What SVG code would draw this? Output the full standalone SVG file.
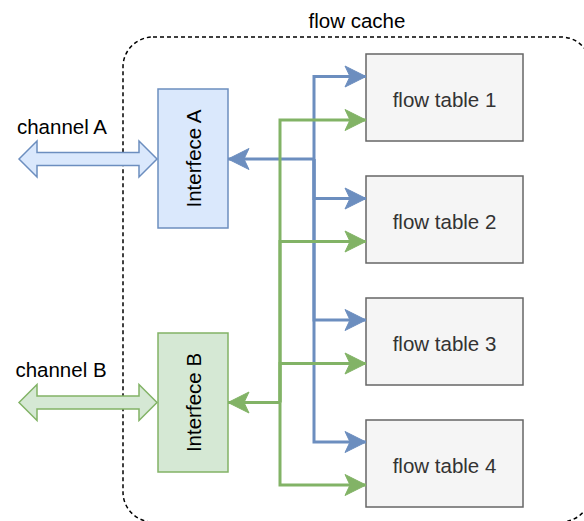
<svg xmlns="http://www.w3.org/2000/svg" width="584" height="521" viewBox="0 0 584 521">
  <defs>
    <marker id="arrowBlue" markerUnits="userSpaceOnUse" viewBox="-22 -12 24 24" refX="0" refY="0" markerWidth="24" markerHeight="24" orient="auto">
      <path d="M0,0 L-21,-10.5 L-16,0 L-21,10.5 Z" fill="#6c8ebf" stroke="#6c8ebf" stroke-width="1"/>
    </marker>
    <marker id="arrowGreen" markerUnits="userSpaceOnUse" viewBox="-22 -12 24 24" refX="0" refY="0" markerWidth="24" markerHeight="24" orient="auto">
      <path d="M0,0 L-21,-10.5 L-16,0 L-21,10.5 Z" fill="#82b366" stroke="#82b366" stroke-width="1"/>
    </marker>
  </defs>
  <style>
    text { font-family: "Liberation Sans", Arial, Helvetica, sans-serif; font-size: 20.5px; }
    .table rect { fill: #f5f5f5; stroke: #666666; stroke-width: 1.5; }
    .table text { fill: #333333; text-anchor: middle; dominant-baseline: central; }
    .lbl { fill: #000000; }
    .blue { fill: none; stroke: #6c8ebf; stroke-width: 3; }
    .green { fill: none; stroke: #82b366; stroke-width: 3; }
    .blue.arr { marker-end: url(#arrowBlue); }
    .green.arr { marker-end: url(#arrowGreen); }
  </style>

  <rect width="584" height="521" fill="#ffffff"/>

  <!-- flow cache container -->
  <g id="flow-cache">
    <rect x="123" y="37" width="468" height="485" rx="30" ry="30" fill="none" stroke="#000000" stroke-width="1.5" stroke-dasharray="4 3"/>
    <text class="lbl" x="357" y="20" text-anchor="middle" dominant-baseline="central">flow cache</text>
  </g>

  <!-- channel arrows -->
  <g id="channel-a">
    <path d="M19,159 L37,141 L37,152.5 L139,152.5 L139,141 L157,159 L139,177 L139,165.5 L37,165.5 L37,177 Z" fill="#dae8fc" stroke="#6c8ebf" stroke-width="1.5"/>
    <text class="lbl" x="62" y="126" text-anchor="middle" dominant-baseline="central">channel A</text>
  </g>
  <g id="channel-b">
    <path d="M19,402.5 L37,384.5 L37,396 L139,396 L139,384.5 L157,402.5 L139,420.5 L139,409 L37,409 L37,420.5 Z" fill="#d5e8d4" stroke="#82b366" stroke-width="1.5"/>
    <text class="lbl" x="61" y="369" text-anchor="middle" dominant-baseline="central">channel B</text>
  </g>

  <!-- interfaces -->
  <g id="interface-a">
    <rect x="158" y="89" width="70" height="139" fill="#dae8fc" stroke="#6c8ebf" stroke-width="1.5"/>
    <text class="lbl" x="193" y="158.5" text-anchor="middle" dominant-baseline="central" transform="rotate(-90 193 158.5)">Interfece A</text>
  </g>
  <g id="interface-b">
    <rect x="158" y="333" width="70" height="139" fill="#d5e8d4" stroke="#82b366" stroke-width="1.5"/>
    <text class="lbl" x="193" y="402.5" text-anchor="middle" dominant-baseline="central" transform="rotate(-90 193 402.5)">Interfece B</text>
  </g>

  <!-- flow tables -->
  <g id="flow-table-1" class="table">
    <rect x="366" y="54" width="157" height="87"/>
    <text x="444.5" y="99.5">flow table 1</text>
  </g>
  <g id="flow-table-2" class="table">
    <rect x="366" y="176" width="157" height="87"/>
    <text x="444.5" y="221.5">flow table 2</text>
  </g>
  <g id="flow-table-3" class="table">
    <rect x="366" y="298" width="157" height="87"/>
    <text x="444.5" y="343.5">flow table 3</text>
  </g>
  <g id="flow-table-4" class="table">
    <rect x="366" y="420" width="157" height="87"/>
    <text x="444.5" y="465.5">flow table 4</text>
  </g>

  <!-- connectors -->
  <g id="connectors">
    <!-- channel A side -->
    <path class="blue arr" d="M314,159 L228,159"/>
    <path class="blue arr" d="M314,159 L314,76.5 L366,76.5"/>
    <path class="blue arr" d="M314,159 L314,198.5 L366,198.5"/>
    <path class="blue arr" d="M314,159 L314,320 L366,320"/>
    <path class="blue arr" d="M314,159 L314,442 L366,442"/>
    <!-- channel B side -->
    <path class="green arr" d="M280,402.5 L228,402.5"/>
    <path class="green arr" d="M280,402.5 L280,120 L366,120"/>
    <path class="green arr" d="M280,402.5 L280,241.5 L366,241.5"/>
    <path class="green arr" d="M280,402.5 L280,363.5 L366,363.5"/>
    <path class="green arr" d="M280,402.5 L280,485 L366,485"/>
  </g>
</svg>
